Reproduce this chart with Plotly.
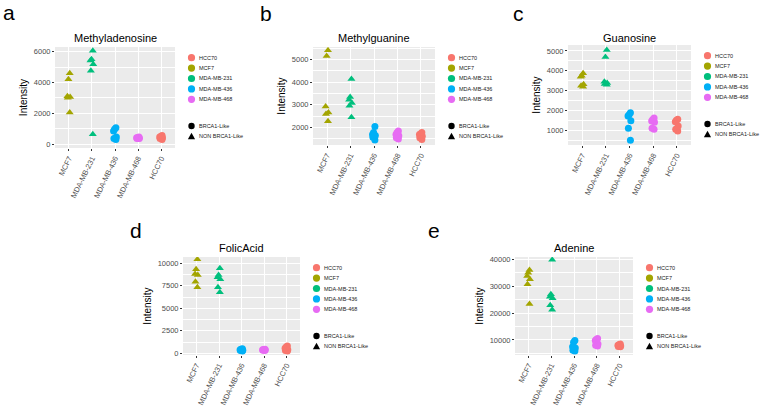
import plotly.graph_objects as go

# ---------------- data ----------------
cell_lines = ["MCF7", "MDA-MB-231", "MDA-MB-436", "MDA-MB-468", "HCC70"]
legend_order = ["HCC70", "MCF7", "MDA-MB-231", "MDA-MB-436", "MDA-MB-468"]
brca_status = ["NON BRCA1-Like", "NON BRCA1-Like", "BRCA1-Like", "BRCA1-Like", "BRCA1-Like"]
shape_labels = ["BRCA1-Like", "NON BRCA1-Like"]
panel_letters = ["a", "b", "c", "d", "e"]
metabolites = ["Methyladenosine", "Methylguanine", "Guanosine", "FolicAcid", "Adenine"]

# values per cell line, in the order of cell_lines
methyladenosine = [
    [4600, 4200, 3100, 3050, 3000, 2050],
    [6050, 5510, 5420, 5180, 4750, 630],
    [1050, 950, 850, 450, 350, 300],
    [450, 420, 400, 380, 360, 350],
    [550, 480, 450, 400, 350, 300],
]
methylguanine = [
    [5400, 5150, 2930, 2660, 2600, 2280],
    [4140, 3350, 3230, 3080, 2960, 2460],
    [2050, 1780, 1700, 1650, 1580, 1460],
    [1850, 1780, 1700, 1640, 1550, 1500],
    [1780, 1720, 1700, 1620, 1550, 1480],
]
guanosine = [
    [3870, 3750, 3700, 3320, 3250, 3200],
    [5050, 4700, 3450, 3380, 3330, 3300],
    [1880, 1780, 1720, 1480, 1100, 500],
    [1620, 1550, 1470, 1400, 1100, 1050],
    [1560, 1500, 1430, 1220, 1050, 960],
]
folic_acid = [
    [10440, 9330, 8820, 8700, 7960, 7330],
    [9440, 8700, 8440, 8220, 7330, 6780],
    [500, 450, 400, 350, 300, 250],
    [450, 420, 400, 380, 350, 300],
    [800, 700, 550, 400, 300, 250],
]
adenine = [
    [36000, 35000, 33800, 32600, 30700, 23400],
    [39800, 27000, 26100, 25500, 22900, 21200],
    [9800, 9200, 7500, 7000, 6200, 5900],
    [10600, 10200, 9800, 8500, 8000, 7800],
    [8500, 8200, 8000, 7800, 7600, 7500],
]
datasets = [methyladenosine, methylguanine, guanosine, folic_acid, adenine]
y_tick_steps = [2000, 1000, 1000, 2500, 10000]
y_ranges = [[-260, 6300], [1235, 5545], [258, 5300], [-190, 10700], [4420, 40855]]

# ---------------- style / layout ----------------
colors = {"HCC70": "#F8766D", "MCF7": "#A3A500", "MDA-MB-231": "#00BF7D",
          "MDA-MB-436": "#00B0F6", "MDA-MB-468": "#E76BF3"}
symbols = {"BRCA1-Like": "circle", "NON BRCA1-Like": "triangle-up"}
W, H = 760, 410
# panel boxes in pixels: left, top, right, bottom
boxes = [(55, 47, 175, 148), (313, 47, 435, 145), (568, 45, 691, 145),
         (183, 257, 300, 355), (515, 257, 633, 355)]
title_y = [38, 38, 38, 248, 248]
letter_pos = [(1, 12), (258, 13), (511, 13), (128, 230), (426, 230)]
FONT = "Liberation Sans, Arial, sans-serif"


def fx(x):
    return x / W


def fy(y):
    return 1 - y / H


fig = go.Figure()
layout = dict(width=W, height=H, margin=dict(l=0, r=0, t=0, b=0),
              paper_bgcolor="white", plot_bgcolor="#EBEBEB",
              boxmode="overlay", showlegend=False, hovermode=False,
              font=dict(family=FONT, color="#000000"))
shapes, annotations = [], []

for i, (name, data) in enumerate(zip(metabolites, datasets)):
    sfx = "" if i == 0 else str(i + 1)
    L, T, R, B = boxes[i]
    for j, cl in enumerate(cell_lines):
        fig.add_trace(go.Box(
            x=[cl] * len(data[j]), y=data[j], name=cl,
            xaxis="x" + sfx, yaxis="y" + sfx,
            boxpoints="all", jitter=0.3, pointpos=0,
            fillcolor="rgba(0,0,0,0)", line=dict(width=0, color="rgba(0,0,0,0)"),
            marker=dict(color=colors[cl], symbol=symbols[brca_status[j]], size=7,
                        line=dict(width=0)),
            hoveron="points", showlegend=False))
    step = y_tick_steps[i]
    layout["xaxis" + sfx] = dict(
        domain=[fx(L), fx(R)], anchor="y" + sfx, type="category",
        categoryorder="array", categoryarray=cell_lines, range=[-0.6, 4.6],
        tickangle=-64, ticks="outside", ticklen=2, tickcolor="#333333",
        tickfont=dict(size=7.5, color="#4D4D4D", family=FONT),
        showgrid=True, gridcolor="white", gridwidth=1, zeroline=False,
        showline=False, automargin=False, fixedrange=True)
    layout["yaxis" + sfx] = dict(
        domain=[fy(B), fy(T)], anchor="x" + sfx, range=y_ranges[i],
        tick0=0, dtick=step, tickformat="d", ticks="outside", ticklen=2,
        tickcolor="#333333", tickfont=dict(size=7.5, color="#4D4D4D", family=FONT),
        showgrid=True, gridcolor="white", gridwidth=1, zeroline=False,
        showline=False, automargin=False, fixedrange=True,
        minor=dict(tick0=0, dtick=step / 2, showgrid=True, gridcolor="white",
                   gridwidth=0.5, ticks=""),
        title=dict(text="Intensity", font=dict(size=10, color="#000000", family=FONT),
                   standoff=4))
    # panel title
    annotations.append(dict(text=name, x=fx((L + R) / 2), y=fy(title_y[i]),
                            xref="paper", yref="paper", xanchor="center",
                            yanchor="middle", showarrow=False,
                            font=dict(size=11, color="#000000", family=FONT)))
    # panel letter
    lx, ly = letter_pos[i]
    annotations.append(dict(text=panel_letters[i], x=fx(lx), y=fy(ly),
                            xref="paper", yref="paper", xanchor="left",
                            yanchor="middle", showarrow=False,
                            font=dict(size=21, color="#000000", family=FONT)))
    # legends
    kx = R + 16.5
    for k, cl in enumerate(legend_order):
        ky = T + 10.7 + 10.4 * k
        shapes.append(dict(type="circle", xref="paper", yref="paper",
                           xsizemode="pixel", ysizemode="pixel",
                           xanchor=fx(kx), yanchor=fy(ky),
                           x0=-3.6, x1=3.6, y0=-3.6, y1=3.6,
                           fillcolor=colors[cl], line=dict(width=0)))
        annotations.append(dict(text=cl, x=fx(kx + 5.5), y=fy(ky), xref="paper",
                                yref="paper", xanchor="left", yanchor="middle",
                                showarrow=False,
                                font=dict(size=5.5, color="#222222", family=FONT)))
    for k, lab in enumerate(shape_labels):
        ky = T + 79 + 10.3 * k
        if symbols[lab] == "circle":
            shapes.append(dict(type="circle", xref="paper", yref="paper",
                               xsizemode="pixel", ysizemode="pixel",
                               xanchor=fx(kx), yanchor=fy(ky),
                               x0=-3.2, x1=3.2, y0=-3.2, y1=3.2,
                               fillcolor="black", line=dict(width=0)))
        else:
            shapes.append(dict(type="path", xref="paper", yref="paper",
                               xsizemode="pixel", ysizemode="pixel",
                               xanchor=fx(kx), yanchor=fy(ky),
                               path="M -3.6,-3 L 3.6,-3 L 0,3.6 Z",
                               fillcolor="black", line=dict(width=0)))
        annotations.append(dict(text=lab, x=fx(kx + 5.5), y=fy(ky), xref="paper",
                                yref="paper", xanchor="left", yanchor="middle",
                                showarrow=False,
                                font=dict(size=5.5, color="#222222", family=FONT)))

layout["shapes"] = shapes
layout["annotations"] = annotations
fig.update_layout(**layout)
# remove the browser's default 8px page margin so the figure fills the window
fig.write_html("out.html", config={"displayModeBar": False},
               post_script="document.body.style.margin='0';document.body.style.padding='0';")
